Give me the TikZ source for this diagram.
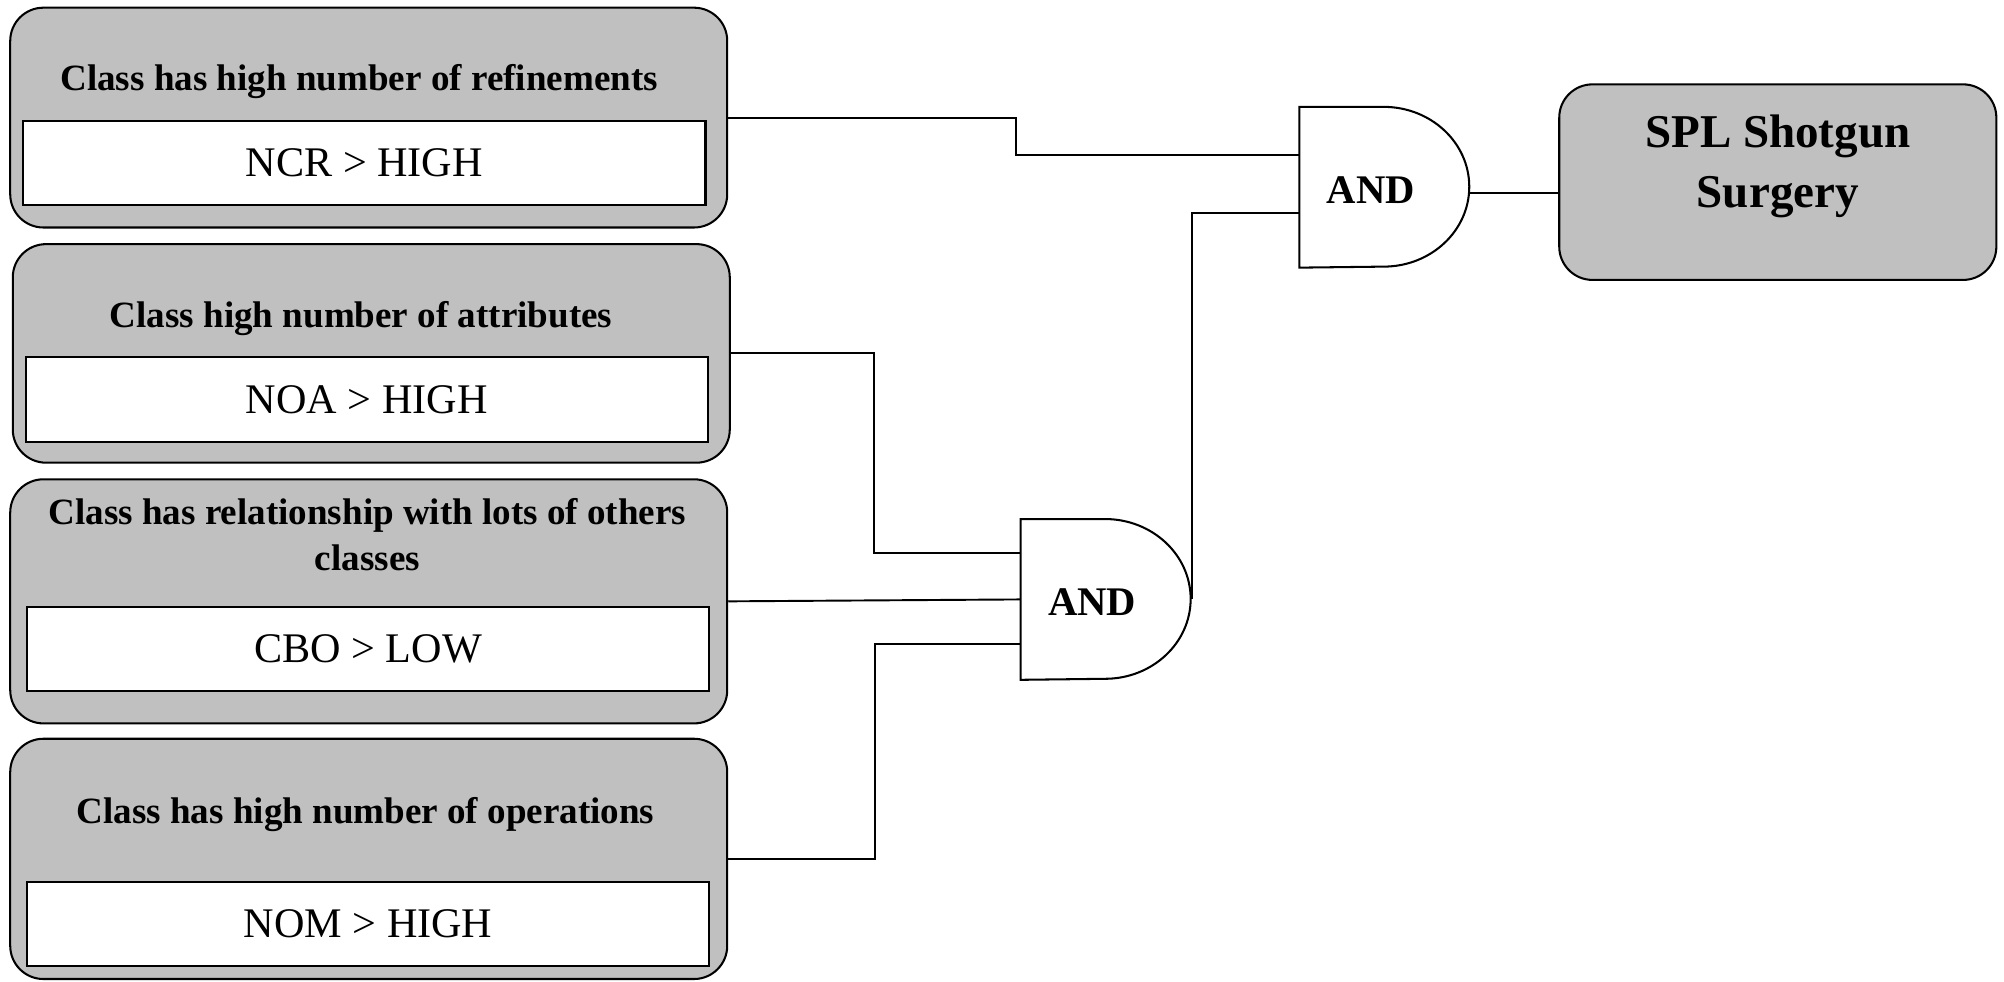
\documentclass[tikz,border=0pt]{standalone}
\usepackage{fontspec}
\setmainfont{Liberation Serif}
\usetikzlibrary{calc}
\definecolor{panelgray}{RGB}{192,192,192}

\begin{document}
\begin{tikzpicture}[x=0.5pt,y=-0.5pt,
  panel/.style={draw=black, fill=panelgray, rounded corners=13pt, line width=0.8pt,
    minimum width=280.5pt, inner sep=0pt},
  metric/.style={draw=black, fill=white, line width=0.8pt, minimum width=267pt,
    minimum height=33pt, inner sep=0pt, font=\fontsize{16.5}{19}\selectfont},
  title/.style={font=\bfseries\fontsize{14.5}{18}\selectfont, align=center, inner sep=0pt},
  gate/.style={minimum width=66.5pt, minimum height=62.5pt, inner sep=0pt},
  gateline/.style={draw=black, line width=0.8pt},
  gatetext/.style={font=\bfseries\fontsize{15.9}{18}\selectfont, inner sep=0pt},
  wire/.style={line width=0.75pt}]

\useasboundingbox (0,0) rectangle (1568,768);

% condition panels
\node[panel, minimum height=86pt]   (b1) at (288.5,92)    {};
\node[panel, minimum height=85.5pt] (b2) at (290.5,276.5) {};
\node[panel, minimum height=95.5pt] (b3) at (288.5,470.5) {};
\node[panel, minimum height=94pt]   (b4) at (288.5,672)   {};

% metric thresholds
\node[metric] (m1) at (285,127.5) {NCR > HIGH};
\node[metric] (m2) at (287,312.5) {NOA > HIGH};
\node[metric] (m3) at (288,508)   {CBO > LOW};
\node[metric] (m4) at (288,723)   {NOM > HIGH};

% panel titles
\node[title] (t1) at (281,64)    {Class has high number of refinements};
\node[title] (t2) at (282.5,249) {Class high number of attributes};
\node[title] (t3) at (287.5,418) {Class has relationship with lots of others\\classes};
\node[title] (t4) at (286,637)   {Class has high number of operations};

% AND gates
\node[gate] (g1) at (1083.5,146.5) {};
\node[gate] (g2) at (865.5,469)    {};
\foreach \g in {g1,g2}
  \draw[gateline] (\g.north west) -- ++(33pt,0)
    arc[start angle=90, end angle=-90, x radius=33.5pt, y radius=31.25pt]
    -- (\g.south west) -- cycle;
\node[gatetext] (g1t) at ([xshift=28pt,yshift=-1pt]g1.west) {AND};
\node[gatetext] (g2t) at ([xshift=28pt,yshift=-1pt]g2.west) {AND};

% result
\node[panel, minimum width=171pt, minimum height=76.5pt] (spl) at (1391,142.5) {};
\node[font=\bfseries\fontsize{18.4}{23.5}\selectfont, align=center, inner sep=0pt]
  (splt) at (1391,130.5) {SPL Shotgun\\Surgery};

% gate inputs and output
\coordinate (g1a) at ([yshift=12.75pt]g1.west);
\coordinate (g1b) at ([yshift=-10.25pt]g1.west);
\coordinate (g2a) at ([yshift=18pt]g2.west);
\coordinate (g2b) at (g2.west);
\coordinate (g2c) at ([yshift=-17.5pt]g2.west);
\coordinate (g1out) at ([yshift=-2.25pt]g1.east);

% wiring
\draw[wire] (b1.east) -- ++(112.5pt,0) |- (g1a);
\draw[wire] (g2.east) |- (g1b);
\draw[wire] (b2.east) -- ++(56pt,0) |- (g2a);
\draw[wire] (b3.east) -- (g2b);
\draw[wire] (b4.east) -- ++(57.5pt,0) |- (g2c);
\draw[wire] (g1out) -- (g1out -| spl.west);

\end{tikzpicture}
\end{document}
